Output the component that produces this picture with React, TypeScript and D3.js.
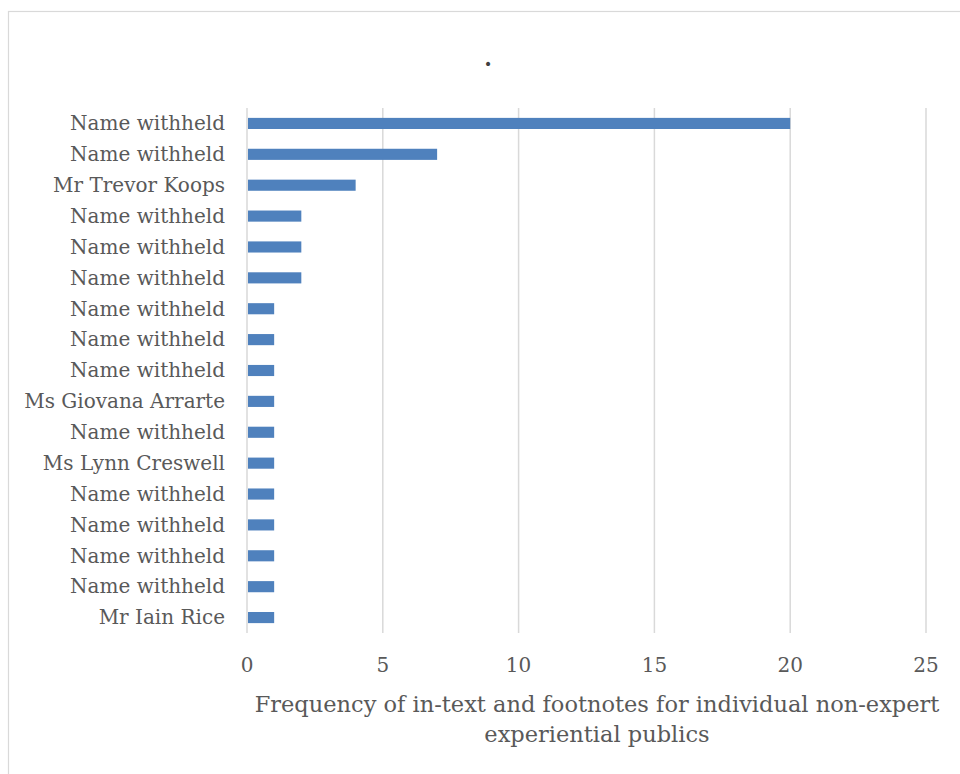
import React from "react";
import * as d3 from "d3";

const categories = [
  "Name withheld",
  "Name withheld",
  "Mr Trevor Koops",
  "Name withheld",
  "Name withheld",
  "Name withheld",
  "Name withheld",
  "Name withheld",
  "Name withheld",
  "Ms Giovana Arrarte",
  "Name withheld",
  "Ms Lynn Creswell",
  "Name withheld",
  "Name withheld",
  "Name withheld",
  "Name withheld",
  "Mr Iain Rice",
];
const values = [20, 7, 4, 2, 2, 2, 1, 1, 1, 1, 1, 1, 1, 1, 1, 1, 1];
const xTicks = [0, 5, 10, 15, 20, 25];
const chartTitle = ".";
const axisTitleLines = [
  "Frequency of in-text and footnotes for individual non-expert",
  "experiential publics",
];

const W = 960;
const H = 774;
const FONT = "'DejaVu Serif', serif";
const TEXT = "#595959";
const GRID = "#D9D9D9";
const BAR = "#4F81BD";

export default function App() {
  const plot = { left: 247, right: 926, top: 108, bottom: 633 };
  const x = d3.scaleLinear().domain([0, 25]).range([plot.left, plot.right]);
  const y = d3
    .scaleBand<number>()
    .domain(d3.range(categories.length))
    .range([plot.top, plot.bottom])
    .paddingInner(0.64)
    .paddingOuter(0.32);

  return (
    <svg
      width={W}
      height={H}
      style={{ position: "absolute", left: 0, top: 0, background: "#fff" }}
    >
      <rect x={0} y={0} width={W} height={H} fill="#fff" />
      {/* chart frame */}
      <rect
        x={8.5}
        y={11.5}
        width={W + 10}
        height={H + 10}
        fill="none"
        stroke={GRID}
        strokeWidth={1.2}
      />
      <text
        x={488}
        y={66}
        textAnchor="middle"
        fontFamily={FONT}
        fontWeight="bold"
        fontSize={22}
        fill="#404040"
      >
        {chartTitle}
      </text>
      {/* vertical gridlines */}
      {xTicks.map((t) => (
        <line
          key={"g" + t}
          x1={x(t)}
          x2={x(t)}
          y1={plot.top}
          y2={plot.bottom}
          stroke={GRID}
          strokeWidth={1.5}
        />
      ))}
      {/* bars */}
      {values.map((v, i) => (
        <rect
          key={"b" + i}
          x={x(0) + 1}
          y={y(i)}
          width={x(v) - x(0) - 1}
          height={y.bandwidth()}
          fill={BAR}
        />
      ))}
      {/* category labels */}
      {categories.map((c, i) => (
        <text
          key={"c" + i}
          x={225}
          y={(y(i) ?? 0) + y.bandwidth() / 2}
          dy="0.34em"
          textAnchor="end"
          fontFamily={FONT}
          fontSize={20}
          fill={TEXT}
        >
          {c}
        </text>
      ))}
      {/* tick labels */}
      {xTicks.map((t) => (
        <text
          key={"t" + t}
          x={x(t)}
          y={672}
          textAnchor="middle"
          fontFamily={FONT}
          fontSize={20}
          fill={TEXT}
        >
          {t}
        </text>
      ))}
      {/* axis title */}
      {axisTitleLines.map((line, i) => (
        <text
          key={"a" + i}
          x={597}
          y={712 + i * 30}
          textAnchor="middle"
          fontFamily={FONT}
          fontSize={22.5}
          fill={TEXT}
        >
          {line}
        </text>
      ))}
    </svg>
  );
}
